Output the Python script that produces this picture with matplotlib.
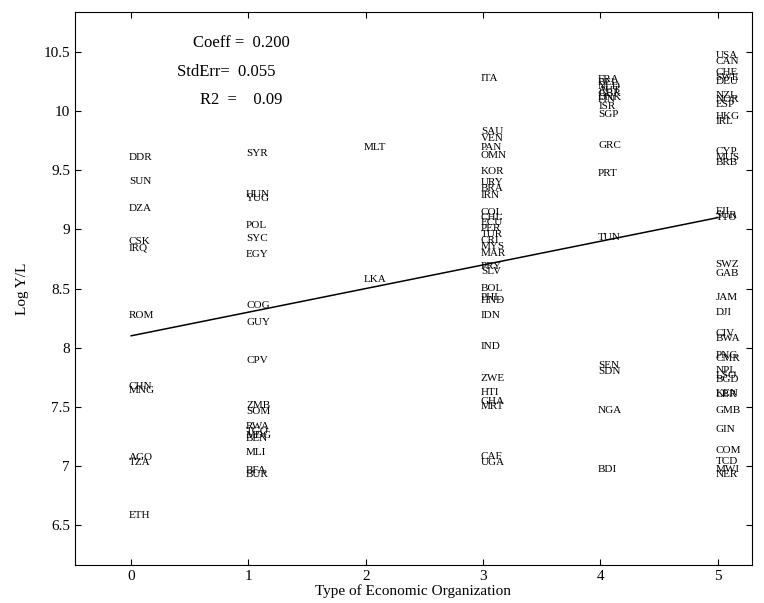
import numpy as np
import matplotlib
matplotlib.use("Agg")
import matplotlib.pyplot as plt

plt.rcParams["font.family"] = ["Liberation Serif", "DejaVu Serif"]

# economic organization type 0
codes0 = ["DDR", "SUN", "DZA", "CSK", "IRQ", "ROM", "CHN", "MNG", "AGO", "TZA", "ETH"]
logyl0 = [9.61, 9.41, 9.18, 8.90, 8.84, 8.27, 7.67, 7.64, 7.07, 7.03, 6.58]

# type 1
codes1 = ["SYR", "HUN", "YUG", "POL", "SYC", "EGY", "COG", "GUY", "CPV", "ZMB", "SOM",
          "RWA", "TGO", "MDG", "BEN", "MLI", "BFA", "BUR"]
logyl1 = [9.64, 9.30, 9.26, 9.03, 8.92, 8.79, 8.36, 8.21, 7.89, 7.51, 7.46,
          7.33, 7.29, 7.26, 7.23, 7.11, 6.96, 6.93]

# type 2
codes2 = ["MLT", "LKA"]
logyl2 = [9.69, 8.58]

# type 3
codes3 = ["ITA", "SAU", "VEN", "PAN", "OMN", "KOR", "URY", "BRA", "IRN", "COL", "CHL",
          "ECU", "PER", "TUR", "CRI", "MYS", "MAR", "PRY", "SLV", "BOL", "PHL", "HND",
          "IDN", "IND", "ZWE", "HTI", "GHA", "MRT", "CAF", "UGA"]
logyl3 = [10.28, 9.83, 9.77, 9.69, 9.63, 9.49, 9.40, 9.35, 9.29, 9.14, 9.10,
          9.06, 9.01, 8.96, 8.91, 8.86, 8.80, 8.69, 8.64, 8.50, 8.42, 8.40,
          8.27, 8.01, 7.74, 7.62, 7.54, 7.50, 7.08, 7.03]

# type 4
codes4 = ["FRA", "BEL", "NLD", "AUT", "GBR", "DNK", "FIN", "ISR", "SGP", "GRC", "PRT",
          "TUN", "SEN", "SDN", "NGA", "BDI"]
logyl4 = [10.27, 10.24, 10.21, 10.18, 10.15, 10.12, 10.10, 10.04, 9.97, 9.71, 9.47,
          8.93, 7.85, 7.80, 7.47, 6.97]

# type 5
codes5 = ["USA", "CAN", "CHE", "SWE", "DEU", "NZL", "NOR", "ESP", "HKG", "IRL", "CYP",
          "MUS", "BRB", "FJI", "SUR", "TTO", "SWZ", "GAB", "JAM", "DJI", "CIV", "BWA",
          "PNG", "CMR", "NPL", "LSO", "BGD", "KEN", "LBR", "GMB", "GIN", "COM", "TCD",
          "MWI", "NER"]
logyl5 = [10.47, 10.42, 10.33, 10.29, 10.25, 10.13, 10.10, 10.06, 9.96, 9.91, 9.66,
          9.61, 9.57, 9.15, 9.12, 9.10, 8.70, 8.63, 8.42, 8.30, 8.12, 8.08,
          7.93, 7.91, 7.81, 7.76, 7.73, 7.61, 7.60, 7.47, 7.31, 7.13, 7.04,
          6.97, 6.93]

groups = [(0, codes0, logyl0), (1, codes1, logyl1), (2, codes2, logyl2),
          (3, codes3, logyl3), (4, codes4, logyl4), (5, codes5, logyl5)]

# regression summary
intercept = 8.10
coeff = 0.200
stderr = 0.055
r2 = 0.09

fig = plt.figure(figsize=(7.64, 6.03), dpi=100)
ax = fig.add_axes([0.098, 0.063, 0.886, 0.917])

for xval, codes, vals in groups:
    for c, v in zip(codes, vals):
        ax.text(xval - 0.02, v, c, fontsize=8, ha="left", va="center", color="black")

xl = np.array([0, 5])
ax.plot(xl, intercept + coeff * xl, color="black", lw=1.1)

ax.text(0.174, 0.944, f"Coeff =  {coeff:.3f}", transform=ax.transAxes, fontsize=12, va="center")
ax.text(0.151, 0.891, f"StdErr=  {stderr:.3f}", transform=ax.transAxes, fontsize=12, va="center")
ax.text(0.185, 0.841, f"R2  =    {r2:.2f}", transform=ax.transAxes, fontsize=12, va="center")

ax.set_xlim(-0.48, 5.29)
ax.set_ylim(6.16, 10.84)
ax.set_xticks(range(6))
ax.set_yticks([6.5, 7, 7.5, 8, 8.5, 9, 9.5, 10, 10.5])
ax.set_yticklabels(["6.5", "7", "7.5", "8", "8.5", "9", "9.5", "10", "10.5"])
ax.tick_params(direction="in", top=True, right=True, labelsize=11, length=4)
ax.set_xlabel("Type of Economic Organization", fontsize=11, labelpad=1)
ax.set_ylabel("Log Y/L", fontsize=11, labelpad=10)

fig.savefig("out.png", dpi=100)
